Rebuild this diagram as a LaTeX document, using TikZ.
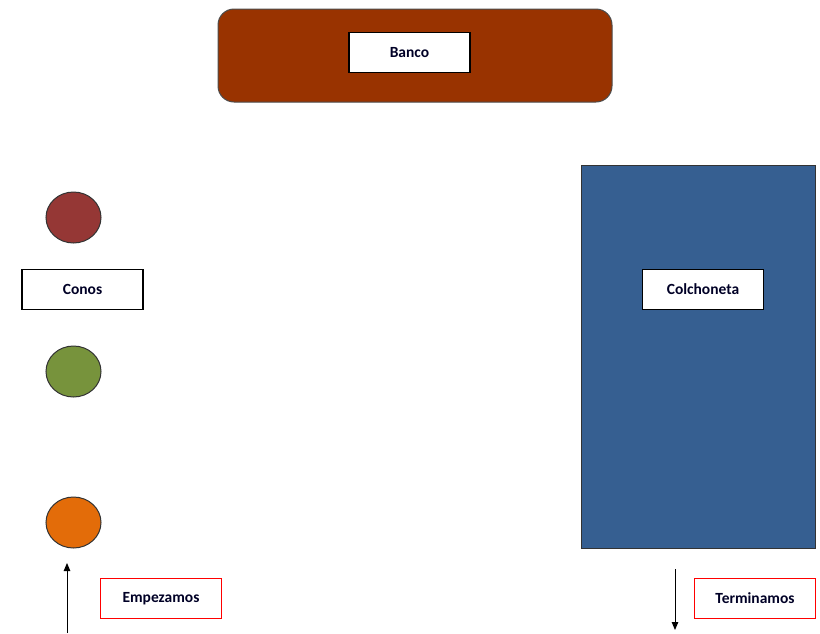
\documentclass[tikz,border=0pt]{standalone}
\usepackage{fontspec}
\setmainfont{Carlito}
\usetikzlibrary{shapes.geometric,arrows.meta}
\definecolor{bench}{HTML}{993300}
\definecolor{mat}{HTML}{365F91}
\definecolor{conered}{HTML}{953735}
\definecolor{conegreen}{HTML}{77933C}
\definecolor{coneorange}{HTML}{E36C09}
\definecolor{startred}{HTML}{FF0000}
\tikzset{
  labelbox/.style={draw=black, line width=1.2pt, fill=white, rectangle,
    minimum width=121pt, minimum height=40pt, inner sep=0pt,
    font=\fontsize{15.5}{18}\selectfont\bfseries, text=black!85!blue},
  redbox/.style={labelbox, draw=startred, line width=1pt},
  cone/.style={draw=black!80, line width=1pt, ellipse, minimum width=55pt,
    minimum height=51pt, inner sep=0pt},
  arrowline/.style={draw=black, line width=1pt, -{Triangle[width=6.5pt,length=8pt]}}
}
\begin{document}
\begin{tikzpicture}[x=1pt,y=-1pt]
\useasboundingbox (0,0) rectangle (820,633);
% bench
\node[draw=black!70, line width=1pt, fill=bench, rounded corners=16pt,
  minimum width=394pt, minimum height=93pt, inner sep=0pt] (bench) at (415,55.5) {};
\node[labelbox] (banco) at (409.5,52.5) {Banco};
% mat
\node[draw=black!80, line width=1pt, fill=mat, minimum width=234pt,
  minimum height=383pt, inner sep=0pt] (mat) at (698,356.5) {};
\node[labelbox] (colch) at (703,289.5) {Colchoneta};
% cones
\node[cone, fill=conered] (c1) at (73.5,217.5) {};
\node[labelbox] (conos) at (82.5,289.5) {Conos};
\node[cone, fill=conegreen] (c2) at (73.5,371.5) {};
\node[cone, fill=coneorange] (c3) at (73.5,522.5) {};
% start / end
\node[redbox] (emp) at (161,598.5) {Empezamos};
\node[redbox] (term) at (755,598.5) {Terminamos};
\coordinate (s0) at (67,633);
\coordinate (s1) at (67,563);
\draw[arrowline] (s0) -- (s1);
\coordinate (e0) at (675,569);
\coordinate (e1) at (675,630);
\draw[arrowline] (e0) -- (e1);
\end{tikzpicture}
\end{document}
